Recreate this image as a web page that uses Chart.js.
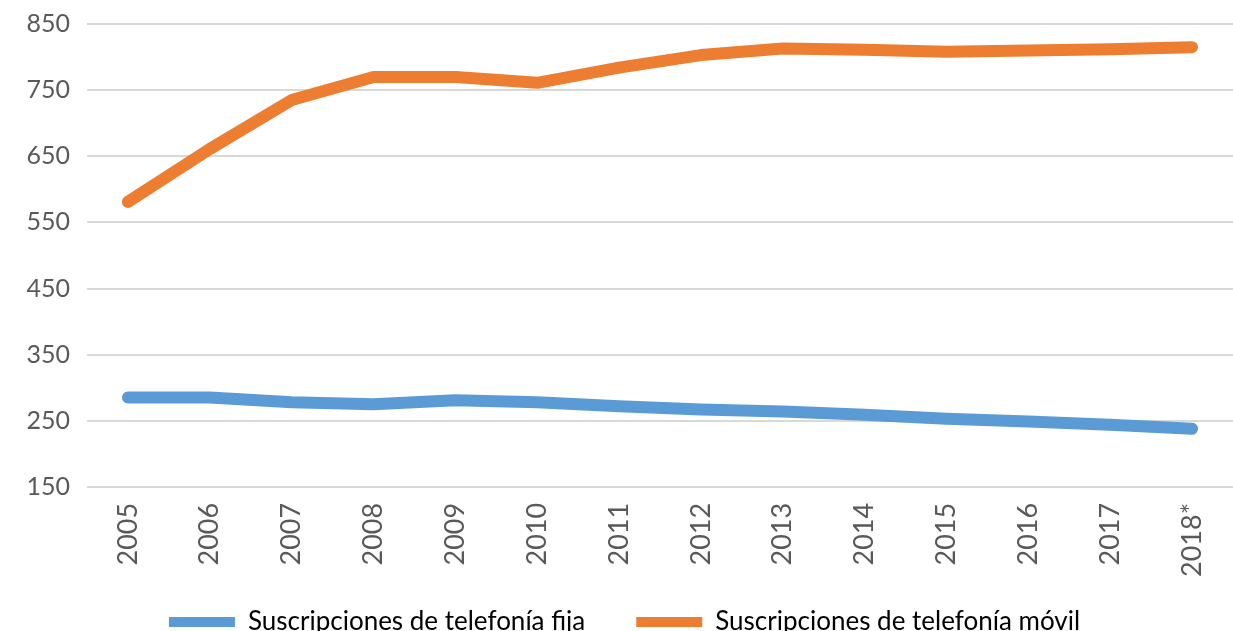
<!DOCTYPE html>
<html>
<head>
<meta charset="utf-8">
<script src="https://cdn.jsdelivr.net/npm/chart.js@4"></script>
<style>
  html, body { margin: 0; padding: 0; background: #fff; }
  #wrap { width: 1233px; height: 631px; }
</style>
</head>
<body>
<div id="wrap"><canvas id="chartCanvas"></canvas></div>
<script>
const years = ['2005', '2006', '2007', '2008', '2009', '2010', '2011', '2012', '2013', '2014', '2015', '2016', '2017', '2018*'];
const fija = [285, 285, 278, 275, 281, 278, 272, 267, 264, 259, 253, 249, 244, 238];
const movil = [581, 661, 735, 770, 770, 761, 784, 803, 813, 811, 808, 810, 812, 815];
const seriesNames = ['Suscripciones de telefonía fija', 'Suscripciones de telefonía móvil'];
const seriesColors = ['#5B9BD5', '#ED7D31'];
const yMin = 150;
const yMax = 850;
const yStep = 100;

const fontFamily = 'Lato, "Open Sans", sans-serif';

const ctx = document.getElementById('chartCanvas').getContext('2d');
const chart = new Chart(ctx, {
  type: 'line',
  data: {
    labels: years,
    datasets: [fija, movil].map((d, i) => ({
      label: seriesNames[i],
      data: d,
      borderColor: seriesColors[i],
      backgroundColor: seriesColors[i],
      borderWidth: 12,
      borderCapStyle: 'round',
      borderJoinStyle: 'round',
      pointRadius: 0,
      fill: false,
      tension: 0,
      clip: false
    }))
  },
  options: {
    responsive: true,
    maintainAspectRatio: false,
    animation: false,
    layout: { autoPadding: false, padding: { top: 0, left: 16, right: 0, bottom: -14 } },
    scales: {
      x: {
        offset: true,
        grid: { display: false, drawTicks: false },
        border: { display: false },
        ticks: {
          minRotation: 90,
          maxRotation: 90,
          padding: 16,
          color: '#595959',
          font: { family: fontFamily, size: 27 }
        },
        afterFit: (scale) => {
          scale.paddingLeft = 0;
          scale.paddingRight = 0;
          scale.height -= 9;
        }
      },
      y: {
        min: yMin,
        max: yMax,
        grid: { color: '#d9d9d9', lineWidth: 2, drawTicks: false },
        border: { display: false },
        ticks: {
          stepSize: yStep,
          padding: 17,
          color: '#595959',
          font: { family: fontFamily, size: 25 }
        },
        afterFit: (scale) => {
          scale.width = 71;
          scale.paddingTop = 24;
          scale.paddingBottom = 0;
        }
      }
    },
    plugins: {
      legend: {
        position: 'bottom',
        labels: {
          boxWidth: 66,
          boxHeight: 10,
          useBorderRadius: true,
          borderRadius: 5,
          padding: 25,
          color: '#000',
          font: { family: fontFamily, size: 26 },
          generateLabels: (c) => c.data.datasets.map((ds, i) => ({
            text: i === 0 ? ds.label + '\u2003\u2005' : ds.label,
            fillStyle: ds.borderColor,
            strokeStyle: ds.borderColor,
            lineWidth: 0,
            fontColor: '#000',
            datasetIndex: i
          }))
        }
      },
      tooltip: { enabled: false }
    }
  }
});
</script>
</body>
</html>
